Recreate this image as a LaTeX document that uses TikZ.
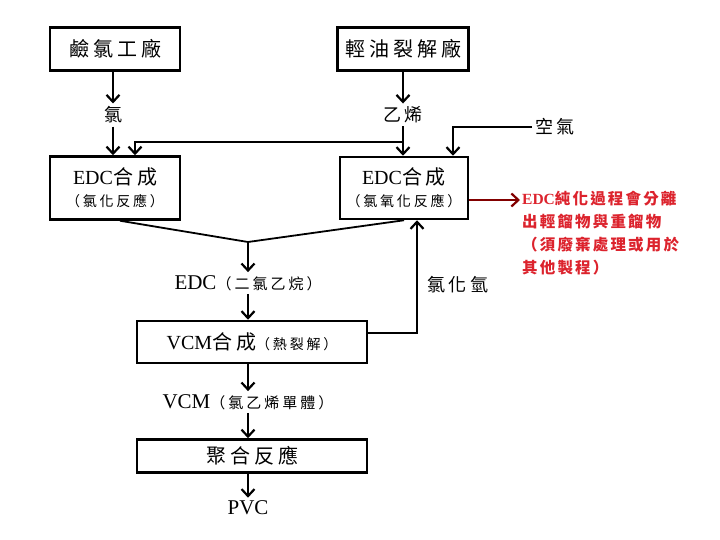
\documentclass[tikz,border=0pt]{standalone}
\usepackage{fontspec}
\setmainfont{Liberation Serif}
\newfontfamily\cjk{Noto Sans CJK TC}[LetterSpace=20]
\newfontfamily\cjknote{Noto Sans CJK TC}[LetterSpace=14]
\usetikzlibrary{arrows.meta}
\definecolor{notered}{RGB}{220,35,45}
\definecolor{linkred}{RGB}{130,0,0}
\newcommand\paren[1]{{\fontsize{14}{16}\selectfont\cjk #1}}
\newcommand\bigparen[1]{{\fontsize{15}{17}\selectfont\cjk #1}}

\begin{document}
\begin{tikzpicture}[x=1pt,y=-1pt,>={Straight Barb[length=7pt,width=13pt]},
  box/.style={rectangle,draw,line width=2.5pt,inner sep=0pt,align=center,font=\fontsize{20}{26}\selectfont},
  lbl/.style={inner sep=3pt,font=\fontsize{18}{22}\selectfont\cjk},
  flow/.style={->,line width=2.2pt},
  note/.style={align=left,inner sep=2pt,text=notered,font=\cjknote\bfseries\fontsize{15.5}{23}\selectfont}]

  \useasboundingbox (0,0) rectangle (720,540);

  \node[box,minimum width=130pt,minimum height=43pt] (chlor) at (115,49) {\cjk 鹼氯工廠};
  \node[box,minimum width=131pt,minimum height=43pt] (crack) at (403,49) {\cjk 輕油裂解廠};

  \node[lbl] (cl) at (113,115) {氯};
  \node[lbl] (eth) at (403,115) {乙烯};
  \node[lbl] (air) at (555,127) {空氣};

  \node[box,minimum width=130pt,minimum height=63pt] (edcA) at (115,188) {EDC{\cjk 合成}\\[-4pt]\paren{（氯化反應）}};
  \node[box,minimum width=128pt,minimum height=62pt] (edcB) at (404,188) {EDC{\cjk 合成}\\[-4pt]\paren{（氯氧化反應）}};

  \coordinate (split) at (403,142);
  \coordinate (merge) at (248,242);

  \node[inner sep=3pt,font=\fontsize{21}{24}\selectfont] (edc) at (248,283) {EDC\bigparen{（二氯乙烷）}};
  \node[box,minimum width=230pt,minimum height=42pt] (vcmbox) at (252,342) {VCM{\cjk 合成}\paren{（熱裂解）}};
  \node[inner sep=3pt,font=\fontsize{21}{24}\selectfont] (vcm) at (248,402) {VCM\bigparen{（氯乙烯單體）}};
  \node[box,minimum width=230pt,minimum height=33pt] (poly) at (252,456) {\cjk 聚合反應};
  \node[inner sep=3pt,font=\fontsize{21}{24}\selectfont] (pvc) at (248,508) {PVC};

  \node[lbl] (hcl) at (458,285) {氯化氫};
  \node[note,anchor=north west] (note) at (520,189) {{\rmfamily EDC}純化過程會分離\\出輕餾物與重餾物\\（須廢棄處理或用於\\其他製程）};

  \draw[flow] (chlor.south -| cl) -- (cl.north);
  \draw[flow] (cl.south) -- (cl.south |- edcA.north);
  \draw[flow] (crack.south) -- (eth.north);
  \draw[flow] (eth.south) -- (eth.south |- edcB.north);
  \draw[flow] (split) -| ([xshift=20pt]edcA.north);
  \draw[flow] (air.west) -| ([xshift=49pt]edcB.north);

  \draw[line width=1.8pt] ([xshift=5pt]edcA.south) -- (merge) -- (edcB.south);
  \draw[flow] (merge) -- (edc.north);
  \draw[flow] (edc.south) -- (edc.south |- vcmbox.north);

  \coordinate (hclout) at ([yshift=9pt]vcmbox.east);
  \draw[flow] (hclout) -| ([xshift=13pt]edcB.south);

  \draw[flow] (vcmbox.south -| vcm) -- (vcm.north);
  \draw[flow] (vcm.south) -- (vcm.south |- poly.north);
  \draw[flow] (poly.south -| pvc) -- (pvc.north);

  \coordinate (redout) at ([yshift=-12pt]edcB.east);
  \draw[flow,linkred] (redout) -- (redout -| note.west);
\end{tikzpicture}
\end{document}
